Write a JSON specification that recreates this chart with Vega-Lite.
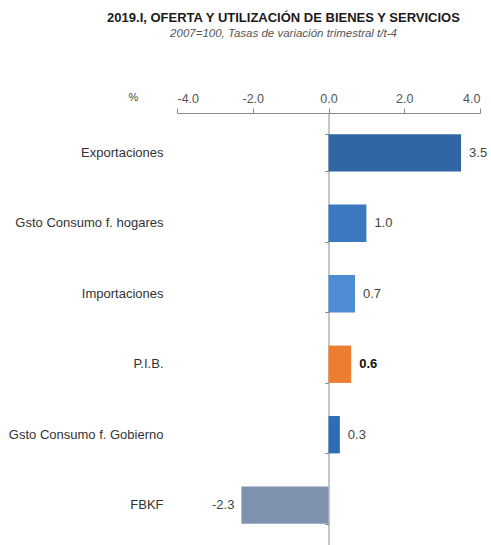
{
  "$schema": "https://vega.github.io/schema/vega-lite/v6.json",
  "width": 303,
  "height": 432,
  "autosize": {"type": "none"},
  "padding": {"left": 177, "top": 113, "right": 11, "bottom": 0},
  "background": "white",
  "config": {
    "view": {"stroke": null},
    "font": "Liberation Sans",
    "locale": {"number": {"decimal": ".", "thousands": ",", "grouping": [3], "currency": ["", ""], "minus": "-"}}
  },
  "title": {
    "text": "2019.I, OFERTA Y UTILIZACIÓN DE BIENES Y SERVICIOS",
    "subtitle": "2007=100, Tasas de variación trimestral t/t-4",
    "anchor": "middle",
    "frame": "group",
    "dx": -45,
    "offset": 52,
    "font": "Liberation Sans",
    "fontSize": 13,
    "fontWeight": "bold",
    "color": "#1a1a1a",
    "subtitleFont": "Liberation Sans",
    "subtitleFontSize": 11.5,
    "subtitleFontStyle": "italic",
    "subtitleColor": "#555555",
    "subtitlePadding": 3
  },
  "data": {
    "values": [
      {"componente": "Exportaciones", "valor": 3.5, "grupo": "Exportaciones"},
      {"componente": "Gsto Consumo f. hogares", "valor": 1.0, "grupo": "Hogares"},
      {"componente": "Importaciones", "valor": 0.7, "grupo": "Importaciones"},
      {"componente": "P.I.B.", "valor": 0.6, "grupo": "PIB"},
      {"componente": "Gsto Consumo f. Gobierno", "valor": 0.3, "grupo": "Gobierno"},
      {"componente": "FBKF", "valor": -2.3, "grupo": "FBKF"}
    ]
  },
  "encoding": {
    "y": {
      "field": "componente",
      "type": "nominal",
      "sort": null,
      "scale": {"paddingInner": 0.47, "paddingOuter": 0.3}
    },
    "x": {
      "field": "valor",
      "type": "quantitative",
      "scale": {"domain": [-4, 4], "nice": false, "zero": false}
    }
  },
  "layer": [
    {
      "mark": {"type": "bar"},
      "encoding": {
        "x": {
          "field": "valor",
          "type": "quantitative",
          "axis": {
            "orient": "top",
            "values": [-4, -2, 0, 2, 4],
            "format": ".1f",
            "grid": false,
            "domainColor": "#8c8c8c",
            "tickColor": "#8c8c8c",
            "tickSize": 5,
            "labelColor": "#555555",
            "labelFontSize": 12.5,
            "labelFont": "Liberation Sans",
            "labelPadding": 3,
            "title": "%",
            "titleAngle": 0,
            "titleX": -44,
            "titleY": -16,
            "titleBaseline": "middle",
            "titleAlign": "center",
            "titleFontWeight": "normal",
            "titleFontSize": 11,
            "titleColor": "#444444"
          }
        },
        "y": {
          "field": "componente",
          "type": "nominal",
          "sort": null,
          "axis": {
            "title": null,
            "domain": false,
            "ticks": false,
            "labelPadding": 14,
            "labelFont": "Liberation Sans",
            "labelFontSize": 13,
            "labelColor": "#333333"
          }
        },
        "color": {
          "field": "grupo",
          "type": "nominal",
          "legend": null,
          "scale": {
            "domain": ["Exportaciones", "Hogares", "Importaciones", "PIB", "Gobierno", "FBKF"],
            "range": ["#2f66a3", "#3b78bf", "#4d8cd2", "#ed7d31", "#2e6db5", "#7f93ae"]
          }
        }
      }
    },
    {
      "transform": [{"filter": "datum.valor > 0 && datum.grupo != 'PIB'"}],
      "mark": {"type": "text", "align": "left", "dx": 8, "fontSize": 13, "color": "#444444", "font": "Liberation Sans"},
      "encoding": {
        "text": {"field": "valor", "type": "quantitative", "format": ".1f"},
        "y": {
          "field": "componente",
          "type": "nominal",
          "sort": null,
          "axis": {
            "orient": "left",
            "offset": -151.5,
            "labels": false,
            "title": null,
            "domain": true,
            "domainColor": "#8c8c8c",
            "ticks": true,
            "tickColor": "#8c8c8c",
            "tickSize": 4,
            "tickBand": "extent",
            "tickOffset": -12
          }
        }
      }
    },
    {
      "transform": [{"filter": "datum.grupo == 'PIB'"}],
      "mark": {"type": "text", "align": "left", "dx": 8, "fontSize": 13, "fontWeight": "bold", "color": "#111111", "font": "Liberation Sans"},
      "encoding": {
        "text": {"field": "valor", "type": "quantitative", "format": ".1f"},
        "y": {"field": "componente", "type": "nominal", "sort": null, "axis": null}
      }
    },
    {
      "transform": [{"filter": "datum.valor < 0"}],
      "mark": {"type": "text", "align": "right", "dx": -7, "fontSize": 13, "color": "#444444", "font": "Liberation Sans"},
      "encoding": {
        "text": {"field": "valor", "type": "quantitative", "format": ".1f"},
        "y": {"field": "componente", "type": "nominal", "sort": null, "axis": null}
      }
    }
  ],
  "resolve": {"axis": {"y": "independent"}}
}
